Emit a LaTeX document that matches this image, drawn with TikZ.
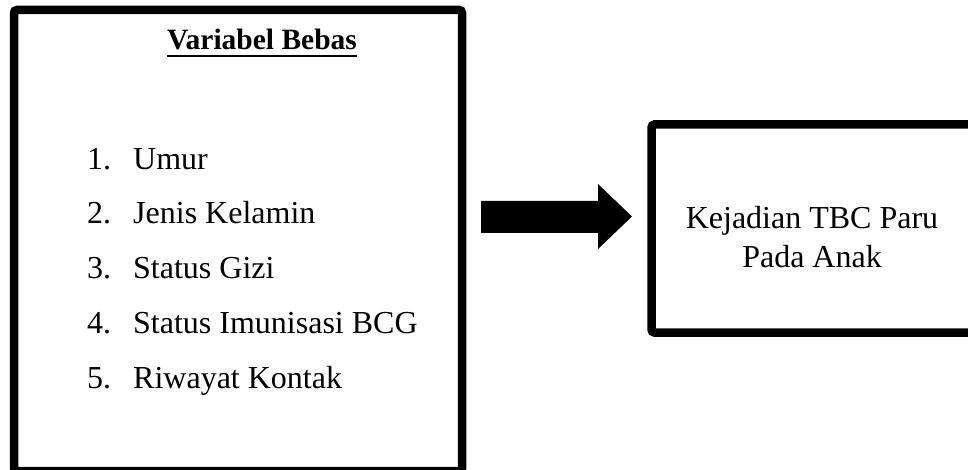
\documentclass[tikz,border=0pt]{standalone}
\usepackage{fontspec}
\setmainfont{Liberation Serif}
\begin{document}
\begin{tikzpicture}[x=1pt,y=-1pt,
  boxline/.style={draw=black, line width=8.5pt, rounded corners=3pt, inner sep=0pt, outer sep=0pt},
  itemtxt/.style={anchor=base west, inner sep=0pt, font=\fontsize{32}{38}\selectfont},
  titletxt/.style={anchor=base, inner sep=0pt, font=\fontsize{29.5}{35}\selectfont\bfseries},
  outtxt/.style={anchor=base, inner sep=0pt, font=\fontsize{32}{38}\selectfont}]
\useasboundingbox (0,0) rectangle (968,470);
\clip (0,0) rectangle (968,470);
\fill[white] (0,0) rectangle (968,470);
% left box
\node[boxline, minimum width=448pt, minimum height=461pt] (leftbox) at (238,240.5) {};
\node[titletxt] (title) at (262,50) {Variabel Bebas};
\draw[line width=2.3pt] ([yshift=-6pt]title.base west) -- ([yshift=-6pt]title.base east);
% list
\node[itemtxt] (n1) at (87,170) {1.};
\node[itemtxt] (t1) at (133,170) {Umur};
\node[itemtxt] (n2) at (87,224) {2.};
\node[itemtxt] (t2) at (133,224) {Jenis Kelamin};
\node[itemtxt] (n3) at (87,278) {3.};
\node[itemtxt] (t3) at (133,278) {Status Gizi};
\node[itemtxt] (n4) at (87,333) {4.};
\node[itemtxt] (t4) at (133,333) {Status Imunisasi BCG};
\node[itemtxt] (n5) at (87,388) {5.};
\node[itemtxt] (t5) at (133,388) {Riwayat Kontak};
% right box
\node[boxline, minimum width=325pt, minimum height=208pt] (rightbox) at (814,228.5) {};
\node[outtxt] (o1) at (812,229) {Kejadian TBC Paru};
\node[outtxt] (o2) at (812,267) {Pada Anak};
% block arrow
\coordinate (as) at (481,217);
\coordinate (at) at (632,216.5);
\fill[black] (481,201) -- (598,201) -- (598,184) -- (at) -- (598,249) -- (598,233) -- (481,233) -- cycle;
\end{tikzpicture}
\end{document}
